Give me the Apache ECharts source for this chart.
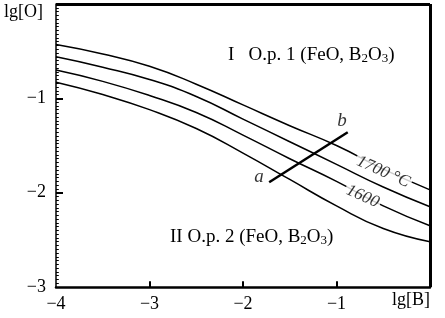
<!DOCTYPE html>
<html><head><meta charset="utf-8">
<script src="https://cdn.jsdelivr.net/npm/echarts@6/dist/echarts.min.js"></script>
<style>html,body{margin:0;padding:0;background:#fff}#c{width:445px;height:318px}</style>
</head><body><div id="c"></div>
<script>
var xs = [-4, -3.5, -3, -2.5, -2, -1.5, -1, -0.5, 0];
var curve1700 = [-0.43, -0.53, -0.66, -0.85, -1.07, -1.29, -1.50, -1.75, -1.97];
var curve1650 = [-0.56, -0.67, -0.80, -0.98, -1.22, -1.46, -1.70, -1.94, -2.15];
var curve1600 = [-0.70, -0.82, -0.97, -1.15, -1.39, -1.64, -1.88, -2.14, -2.35];
var curve1550 = [-0.83, -0.96, -1.12, -1.32, -1.58, -1.86, -2.14, -2.38, -2.52];
var segAB = [[-1.72, -1.89], [-0.88, -1.36]];
var xTicks = [-3, -2, -1];
var yTicks = [-3, -2, -1];
var curveLabels = [{x: -0.50, y: -1.78, text: '1700 °C'}, {x: -0.72, y: -2.04, text: '1600'}];
var pointLabels = [{x: -1.83, y: -1.83, text: 'a'}, {x: -0.94, y: -1.24, text: 'b'}];

var F = 'Liberation Serif, Times New Roman, serif';
var XMIN = -4, XMAX = 0, YMIN = -3, YMAX = 0;
function pairs(ys){ return xs.map(function(x,i){return [x, ys[i]];}); }
function curve(ys){
  return {type:'line', data:pairs(ys), smooth:true, symbol:'none',
    lineStyle:{color:'#000', width:1.5}, silent:true, z:2};
}
function fmtNum(v){ return v < 0 ? '\u2212' + Math.abs(v) : String(v); }
var rich = {a:{fontFamily:F, fontSize:19, fill:'#000', lineHeight:22, verticalAlign:'bottom'},
            s:{fontFamily:F, fontSize:13, fill:'#000', lineHeight:22, verticalAlign:'bottom', padding:[5,0,0,0]}};

// frame (top/right) and tick marks as markLine segments in data units
function seg(a, b, w){ return [{coord:a, lineStyle:{width:w}}, {coord:b}]; }
var marks = [];
marks.push(seg([XMIN, YMAX], [XMAX, YMAX], 3));
marks.push(seg([XMAX, YMIN], [XMAX, YMAX], 3));
xTicks.forEach(function(v){ marks.push(seg([v, YMIN], [v, YMIN + 0.06], 2)); });
yTicks.forEach(function(v){ if (v !== YMIN) marks.push(seg([XMIN, v], [XMIN + 0.075, v], 2)); });
for (var k = 1; k < 75; k++) {
  var mv = YMIN + k * 0.04;
  if (Math.abs(mv - Math.round(mv)) > 1e-6) marks.push(seg([XMIN, mv], [XMIN + 0.03, mv], 1));
}

var chart = echarts.init(document.getElementById('c'), null, {renderer:'canvas'});
chart.setOption({
  animation:false,
  backgroundColor:'#fff',
  grid:{left:56, right:15, top:4, bottom:31},
  xAxis:{
    type:'value', min:XMIN, max:XMAX, interval:1, position:'bottom',
    axisLine:{onZero:false, lineStyle:{color:'#000', width:2.5}},
    axisTick:{show:false},
    axisLabel:{color:'#000', fontFamily:F, fontSize:18, margin:8,
      formatter:function(v){ return v === 0 ? '' : fmtNum(v); }},
    splitLine:{show:false}
  },
  yAxis:{
    type:'value', min:YMIN, max:YMAX, interval:1, position:'left',
    axisLine:{onZero:false, lineStyle:{color:'#000', width:1.5}},
    axisTick:{show:false},
    axisLabel:{color:'#000', fontFamily:F, fontSize:18, margin:10,
      formatter:function(v){ return yTicks.indexOf(v) >= 0 ? fmtNum(v) : ''; }},
    splitLine:{show:false}
  },
  series:[
    curve(curve1700), curve(curve1650), curve(curve1600), curve(curve1550),
    {type:'line', data:segAB, symbol:'none', lineStyle:{color:'#000', width:2.5}, z:3,
      markLine:{silent:true, symbol:'none', animation:false, label:{show:false},
        lineStyle:{color:'#000', type:'solid', width:1.5}, emphasis:{disabled:true},
        data:marks}},
    {type:'scatter', symbolSize:0, z:5,
      data:curveLabels.map(function(d){return {value:[d.x,d.y], name:d.text};}),
      label:{show:true, position:'inside', formatter:'{b}', rotate:-24,
        color:'#000', fontFamily:F, fontSize:17, fontStyle:'italic',
        backgroundColor:'#fff', padding:[0,2]}},
    {type:'scatter', symbolSize:0, z:5,
      data:pointLabels.map(function(d){return {value:[d.x,d.y], name:d.text};}),
      label:{show:true, position:'inside', formatter:'{b}',
        color:'#000', fontFamily:F, fontSize:19, fontStyle:'italic'}}
  ],
  graphic:[
    {type:'text', left:4, top:3, style:{text:'lg[O]', font:'18px ' + F, fill:'#000'}},
    {type:'text', left:392, top:291, style:{text:'lg[B]', font:'18px ' + F, fill:'#000'}},
    {type:'text', left:228, top:46, style:{text:'{a|I   O.p. 1 (FeO, B}{s|2}{a|O}{s|3}{a|)}', rich:rich}},
    {type:'text', left:170, top:228, style:{text:'{a|II O.p. 2 (FeO, B}{s|2}{a|O}{s|3}{a|)}', rich:rich}}
  ]
});
</script></body></html>
